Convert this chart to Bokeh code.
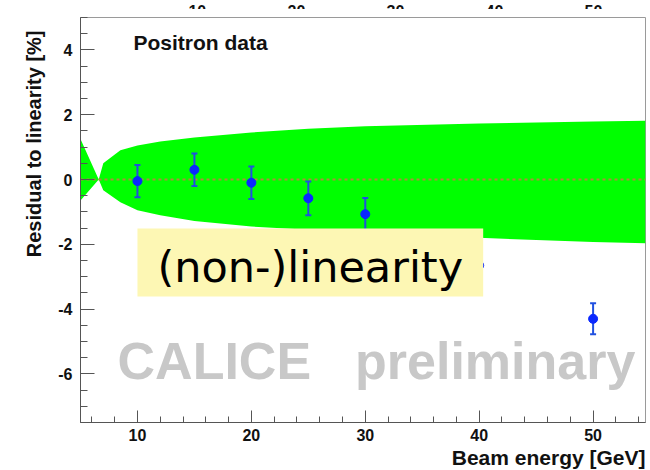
import numpy as np
from bokeh.plotting import figure
from bokeh.layouts import column
from bokeh.models import Range1d, BoxAnnotation, Label, FixedTicker, Title
from bokeh.core.properties import value
from bokeh.embed import file_html
from bokeh.resources import INLINE

# ---- data ----
energy = [10, 15, 20, 25, 30, 40, 50]
residual = [-0.05, 0.3, -0.1, -0.58, -1.07, -2.65, -4.3]
error = [0.5, 0.5, 0.5, 0.52, 0.5, 0.5, 0.48]

band_energy = [5, 6.6, 7.0, 8.5, 10, 12, 15, 20, 25, 30, 40, 50, 54.6]
band_upper = [1.25, 0.0, 0.5, 0.9, 1.05, 1.17, 1.3, 1.45, 1.57, 1.64, 1.73, 1.79, 1.81]
band_lower = [-0.65, 0.0, -0.33, -0.7, -0.95, -1.1, -1.28, -1.45, -1.55, -1.63, -1.8, -1.93, -1.97]

x_ticks = [10, 20, 30, 40, 50]
y_ticks = [-6, -4, -2, 0, 2, 4]
top_tick_labels = ["10", "20", "30", "40", "50"]

FONT = "Liberation Sans"

# ---- cropped strip of the panel above (only the lower half of its tick labels shows) ----
top = figure(width=650, height=9, output_backend="svg", toolbar_location=None,
             x_range=Range1d(-1.8, 55.25), y_range=Range1d(0, 9),
             min_border_left=80, min_border_right=5, min_border_top=0, min_border_bottom=0)
top.axis.visible = False
top.grid.visible = False
top.outline_line_color = None
top.text(x=x_ticks, y=[1.5] * len(x_ticks), text=top_tick_labels, text_align="center",
         text_baseline="alphabetic", text_font=value(FONT), text_font_size="16px",
         text_font_style="bold", text_color="#111111")

# ---- main panel ----
p = figure(width=650, height=461, output_backend="svg", toolbar_location=None,
           x_range=Range1d(5, 54.6), y_range=Range1d(-7.5, 5),
           min_border_left=80, min_border_right=5, min_border_top=8, min_border_bottom=48)
p.grid.visible = False
p.background_fill_color = "white"
p.border_fill_color = "white"
p.outline_line_color = "#9a9a9a"
p.outline_line_width = 1

# band
p.varea(x=band_energy, y1=band_lower, y2=band_upper, fill_color="#00ff00")
# zero line
p.hspan(y=[0], line_color="#b08a3c", line_dash="3 3", line_width=2)

# error bars and points
e = np.array(energy, dtype=float)
r = np.array(residual)
er = np.array(error)
p.segment(x0=e, y0=r - er, x1=e, y1=r + er, line_color="#2050e0", line_width=2)
p.scatter(x=np.concatenate([e, e]), y=np.concatenate([r - er, r + er]), marker="dash",
          size=6, line_color="#2050e0", line_width=2)
p.scatter(x=e, y=r, marker="circle", size=9, fill_color="#0a28ff", line_color="#0a28ff")

# axes
xa = p.xaxis[0]
xa.ticker = FixedTicker(ticks=x_ticks, minor_ticks=list(np.arange(6, 55, 2)))
ya = p.yaxis[0]
ya.ticker = FixedTicker(ticks=y_ticks, minor_ticks=list(np.arange(-7.5, 5.01, 0.5)))
ya.major_label_overrides = {t: str(t) for t in y_ticks}
for ax in (xa, ya):
    ax.major_tick_out = 0
    ax.minor_tick_out = 0
    ax.axis_line_color = "#555555"
    ax.major_tick_line_color = "#555555"
    ax.minor_tick_line_color = "#555555"
    ax.major_label_text_font = FONT
    ax.major_label_text_font_style = "bold"
    ax.major_label_text_font_size = "16px"
    ax.major_label_text_color = "#111111"
xa.major_tick_in = 12
xa.minor_tick_in = 6
ya.major_tick_in = 14
ya.minor_tick_in = 7
xa.major_label_standoff = 6
ya.major_label_standoff = 8

# axis titles
p.add_layout(Title(text="Residual to linearity [%]", align="right", offset=13, standoff=21,
                   text_font=FONT, text_font_size="20px", text_font_style="bold",
                   text_color="#111111"), "left")
p.add_layout(Title(text="Beam energy [GeV]", align="right", standoff=0,
                   text_font=FONT, text_font_size="21px", text_font_style="bold",
                   text_color="#111111"), "below")

# yellow box and its text
p.add_layout(BoxAnnotation(left=10.0, right=40.35, top=-1.51, bottom=-3.61,
                           fill_color="#fdf7b4", fill_alpha=1.0, line_alpha=0))
p.add_layout(Label(x=11.75, y=-3.46, text="(non-)linearity", text_font="DejaVu Sans",
                   text_font_size="43px", text_color="black", text_baseline="bottom"))

# texts
p.add_layout(Label(x=9.65, y=3.86, text="Positron data", text_font=FONT,
                   text_font_size="21px", text_font_style="bold", text_color="#111111",
                   text_baseline="bottom"))
p.add_layout(Label(x=8.25, y=-6.49, text="CALICE", text_font=FONT, text_font_size="52px",
                   text_font_style="bold", text_color="#c8c8c8", text_baseline="bottom"))
p.add_layout(Label(x=29.1, y=-6.49, text="preliminary", text_font=FONT, text_font_size="52px",
                   text_font_style="bold", text_color="#c8c8c8", text_baseline="bottom"))

layout = column(top, p, spacing=0)
open("out.html", "w").write(file_html(layout, INLINE))
